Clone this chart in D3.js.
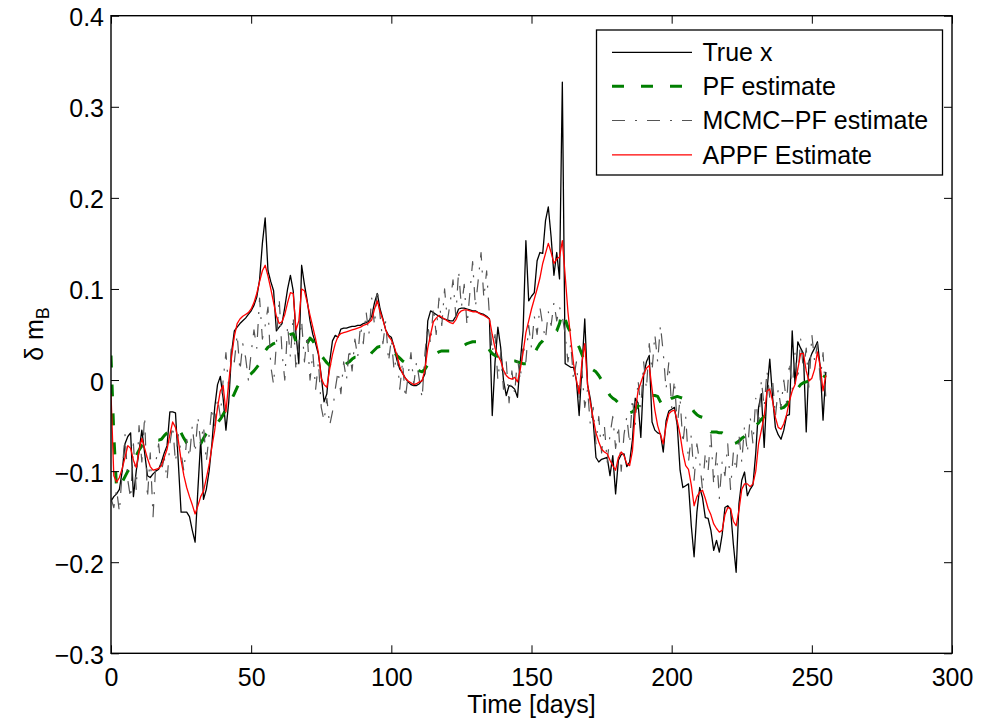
<!DOCTYPE html>
<html>
<head>
<meta charset="utf-8">
<script src="https://cdn.jsdelivr.net/npm/d3@7"></script>
<style>
  html, body { margin: 0; padding: 0; background: #fff; }
  svg { display: block; font-family: "Liberation Sans", Arial, Helvetica, sans-serif; }
</style>
</head>
<body>
<svg id="chart" width="984" height="726"></svg>
<script>
// Daily samples, day 0 .. 255
const trueX = [
  -0.133,-0.128,-0.125,-0.12,-0.10,-0.07,-0.062,-0.058,-0.128,-0.10,
  -0.078,-0.055,-0.08,-0.105,-0.107,-0.103,-0.100,-0.098,-0.09,-0.08,
  -0.072,-0.035,-0.035,-0.036,-0.09,-0.145,-0.145,-0.145,-0.150,-0.165,
  -0.178,-0.12,-0.066,-0.131,-0.12,-0.10,-0.07,-0.03,-0.005,0.004,
  -0.02,-0.055,-0.024,0.03,0.054,0.058,0.062,0.065,0.068,0.072,
  0.076,0.082,0.091,0.11,0.15,0.178,0.12,0.108,0.098,0.054,
  0.058,0.062,0.08,0.10,0.115,0.098,0.05,0.018,0.126,0.105,
  0.087,0.065,0.05,0.040,0.028,0.005,-0.024,-0.015,0.02,0.043,
  0.049,0.047,0.056,0.057,0.057,0.058,0.059,0.059,0.060,0.060,
  0.062,0.063,0.065,0.07,0.085,0.095,0.078,0.067,0.055,0.049,
  0.047,0.036,0.022,0.012,0.008,0.002,-0.002,-0.005,-0.006,-0.006,
  -0.004,0.0,0.007,0.065,0.076,0.074,0.072,0.070,0.068,0.067,
  0.066,0.065,0.065,0.070,0.078,0.079,0.079,0.078,0.077,0.076,
  0.076,0.074,0.073,0.072,0.070,0.067,-0.039,0.02,0.058,0.036,
  0.0,-0.017,-0.006,-0.007,-0.01,-0.019,0.02,0.054,0.153,0.087,
  0.092,0.096,0.131,0.14,0.139,0.175,0.190,0.157,0.115,0.14,
  0.111,0.327,0.018,0.016,0.014,0.014,0.0,-0.039,0.014,0.067,
  -0.005,-0.021,-0.045,-0.085,-0.090,-0.087,-0.086,-0.085,-0.105,-0.083,
  -0.125,-0.088,-0.082,-0.081,-0.095,-0.09,-0.066,-0.02,-0.025,-0.063,
  0.005,0.02,0.027,-0.046,-0.055,-0.058,-0.059,-0.079,-0.045,-0.034,
  -0.032,-0.030,-0.050,-0.099,-0.118,-0.116,-0.114,-0.16,-0.194,-0.145,
  -0.118,-0.129,-0.151,-0.152,-0.165,-0.187,-0.176,-0.189,-0.17,-0.14,
  -0.138,-0.142,-0.18,-0.211,-0.136,-0.11,-0.101,-0.127,-0.12,-0.115,
  -0.08,-0.03,-0.015,-0.074,-0.012,0.023,-0.019,-0.052,-0.06,-0.065,
  -0.055,-0.039,-0.038,0.054,-0.004,0.042,0.035,0.029,-0.057,0.021,
  0.029,0.035,0.042,0.014,-0.044,0.009
];

const pfEstimate = [
  0.027,-0.06,-0.12,-0.117,-0.112,-0.106,-0.100,-0.096,-0.090,-0.083,
  -0.077,-0.072,-0.069,-0.067,-0.066,-0.066,-0.066,-0.066,-0.065,-0.061,
  -0.058,-0.056,-0.055,-0.053,-0.054,-0.058,-0.064,-0.069,-0.072,-0.074,
  -0.075,-0.074,-0.070,-0.064,-0.059,-0.056,-0.053,-0.051,-0.047,-0.043,
  -0.038,-0.032,-0.027,-0.021,-0.015,-0.008,-0.003,0.0,0.003,0.005,
  0.007,0.010,0.014,0.018,0.026,0.032,0.036,0.038,0.040,0.041,
  0.042,0.043,0.045,0.048,0.050,0.051,0.042,0.036,0.035,0.037,
  0.040,0.046,0.043,0.038,0.032,0.027,0.023,0.019,0.016,0.014,
  0.013,0.013,0.014,0.015,0.018,0.020,0.023,0.025,0.025,0.025,
  0.025,0.025,0.026,0.030,0.033,0.036,0.037,0.037,0.036,0.034,
  0.032,0.030,0.027,0.024,0.021,0.019,0.017,0.016,0.014,0.012,
  0.010,0.009,0.012,0.017,0.022,0.027,0.029,0.031,0.032,0.032,
  0.032,0.032,0.033,0.033,0.034,0.036,0.038,0.040,0.041,0.042,
  0.042,0.042,0.042,0.042,0.038,0.033,0.029,0.027,0.026,0.026,
  0.025,0.024,0.022,0.021,0.021,0.020,0.019,0.018,0.018,0.021,
  0.025,0.029,0.035,0.040,0.043,0.047,0.049,0.050,0.052,0.054,
  0.062,0.075,0.067,0.058,0.052,0.047,0.042,0.036,0.028,0.020,
  0.016,0.013,0.011,0.009,0.005,0.0,-0.006,-0.012,-0.017,-0.020,
  -0.022,-0.025,-0.027,-0.030,-0.033,-0.036,-0.035,-0.032,-0.029,-0.025,
  -0.021,-0.019,-0.018,-0.017,-0.017,-0.018,-0.024,-0.030,-0.026,-0.022,
  -0.020,-0.019,-0.018,-0.019,-0.020,-0.021,-0.025,-0.030,-0.035,-0.038,
  -0.040,-0.041,-0.046,-0.052,-0.057,-0.057,-0.057,-0.058,-0.058,-0.060,
  -0.063,-0.067,-0.070,-0.069,-0.067,-0.064,-0.062,-0.059,-0.056,-0.053,
  -0.050,-0.047,-0.043,-0.040,-0.037,-0.035,-0.034,-0.033,-0.032,-0.031,
  -0.030,-0.027,-0.022,-0.018,-0.013,-0.009,-0.005,-0.003,-0.002,-0.001,
  -0.001,0.002,0.004,0.006,0.005,0.003
];

const mcmcEstimate = [
  -0.13,-0.14,-0.12,-0.145,-0.10,-0.06,-0.11,-0.13,-0.07,-0.12,
  -0.05,-0.09,-0.04,-0.13,-0.08,-0.15,-0.09,-0.07,-0.10,-0.085,
  -0.11,-0.07,-0.05,-0.09,-0.06,-0.08,-0.10,-0.065,-0.085,-0.05,
  -0.08,-0.04,-0.07,-0.05,-0.09,-0.06,-0.03,-0.05,-0.02,-0.04,
  0.0,0.03,-0.01,0.04,0.02,0.05,0.01,0.04,0.025,0.0,
  0.03,0.055,0.035,0.09,0.045,0.06,0.08,0.015,-0.005,0.04,
  0.09,0.03,0.0,0.06,0.025,0.07,0.01,0.04,0.065,0.02,
  0.05,0.0,0.03,-0.01,0.02,-0.03,-0.045,-0.02,-0.05,-0.035,
  -0.01,0.01,-0.015,0.02,0.0,0.035,0.01,0.045,0.025,0.06,
  0.04,0.075,0.05,0.09,0.06,0.1,0.07,0.04,0.065,0.02,
  0.045,0.01,0.03,-0.01,0.02,-0.02,0.005,0.03,-0.005,0.02,
  0.0,-0.02,0.03,0.06,0.04,0.08,0.05,0.09,0.06,0.1,
  0.065,0.085,0.11,0.07,0.12,0.08,0.105,0.06,0.095,0.13,
  0.08,0.11,0.14,0.09,0.12,0.07,0.03,0.05,0.0,0.03,
  -0.01,0.02,-0.025,0.01,-0.015,0.025,0.0,0.04,0.02,0.06,
  0.035,0.07,0.05,0.08,0.06,0.045,0.075,0.06,0.085,0.065,
  0.08,0.07,0.05,0.02,0.04,0.0,0.02,-0.02,0.01,-0.03,
  -0.01,-0.05,-0.03,-0.07,-0.04,-0.08,-0.05,-0.09,-0.06,-0.04,
  -0.075,-0.05,-0.1,-0.06,-0.04,-0.07,-0.02,-0.05,0.0,-0.03,
  0.02,-0.01,0.04,0.01,0.05,0.02,0.06,0.03,-0.01,0.02,
  -0.03,0.0,-0.05,-0.02,-0.07,-0.04,-0.09,-0.06,-0.11,-0.07,
  -0.09,-0.12,-0.08,-0.1,-0.06,-0.115,-0.08,-0.13,-0.09,-0.105,
  -0.07,-0.12,-0.08,-0.1,-0.06,-0.09,-0.05,-0.08,-0.04,-0.07,
  -0.02,-0.05,0.0,-0.03,0.01,-0.02,0.0,-0.04,-0.01,-0.03,
  0.0,-0.025,0.02,-0.01,0.03,0.0,0.045,0.01,0.035,-0.01,
  0.05,0.02,0.04,0.0,0.03,-0.02
];

const appfEstimate = [
  -0.015,-0.105,-0.112,-0.107,-0.097,-0.085,-0.072,-0.075,-0.088,-0.096,
  -0.078,-0.064,-0.075,-0.086,-0.095,-0.099,-0.098,-0.097,-0.094,-0.085,
  -0.076,-0.060,-0.046,-0.052,-0.066,-0.088,-0.105,-0.118,-0.128,-0.137,
  -0.147,-0.138,-0.128,-0.122,-0.108,-0.093,-0.073,-0.055,-0.030,-0.012,
  -0.006,-0.035,-0.002,0.025,0.048,0.062,0.067,0.070,0.072,0.074,
  0.078,0.085,0.095,0.108,0.12,0.126,0.114,0.100,0.085,0.070,
  0.062,0.064,0.072,0.085,0.096,0.095,0.055,0.065,0.100,0.098,
  0.085,0.071,0.058,0.045,0.030,0.002,-0.005,-0.008,0.012,0.028,
  0.040,0.048,0.051,0.052,0.053,0.054,0.055,0.056,0.057,0.058,
  0.060,0.061,0.063,0.066,0.078,0.087,0.075,0.066,0.055,0.048,
  0.044,0.037,0.027,0.015,0.007,0.002,-0.001,-0.003,-0.005,-0.004,
  -0.002,-0.001,0.012,0.035,0.050,0.064,0.068,0.071,0.069,0.067,
  0.065,0.063,0.062,0.066,0.073,0.076,0.077,0.077,0.076,0.075,
  0.075,0.074,0.072,0.071,0.069,0.067,0.050,0.035,0.027,0.021,
  0.011,0.005,0.002,0.001,0.003,-0.002,0.012,0.030,0.052,0.065,
  0.078,0.089,0.100,0.112,0.128,0.139,0.150,0.140,0.128,0.133,
  0.135,0.153,0.115,0.075,0.045,0.018,0.0,-0.015,0.02,0.04,
  -0.005,-0.025,-0.042,-0.058,-0.068,-0.076,-0.079,-0.081,-0.088,-0.094,
  -0.099,-0.085,-0.079,-0.083,-0.092,-0.094,-0.078,-0.035,-0.012,-0.003,
  0.006,0.013,0.016,-0.010,-0.033,-0.050,-0.060,-0.070,-0.050,-0.037,
  -0.034,-0.033,-0.045,-0.060,-0.080,-0.094,-0.098,-0.115,-0.138,-0.128,
  -0.123,-0.121,-0.130,-0.141,-0.148,-0.158,-0.163,-0.167,-0.165,-0.148,
  -0.140,-0.141,-0.155,-0.160,-0.143,-0.120,-0.114,-0.114,-0.117,-0.114,
  -0.100,-0.070,-0.055,-0.040,-0.012,-0.010,-0.023,-0.041,-0.052,-0.054,
  -0.048,-0.038,-0.023,-0.012,-0.005,0.012,0.029,0.029,0.010,-0.001,
  0.002,0.012,0.031,0.015,-0.012,0.005
];

const xTicks = [0, 50, 100, 150, 200, 250, 300];
const yTicks = [-0.3, -0.2, -0.1, 0, 0.1, 0.2, 0.3, 0.4];
const legendLabels = ["True x", "PF estimate", "MCMC\u2212PF estimate", "APPF Estimate"];

const FONT = 25;
const plot = { left: 111, right: 952, top: 15.7, bottom: 653.3 };

const svg = d3.select("#chart");
svg.append("rect").attr("width", 984).attr("height", 726).attr("fill", "#fff");

const x = d3.scaleLinear().domain([0, 300]).range([plot.left, plot.right]);
const y = d3.scaleLinear().domain([-0.3, 0.4]).range([plot.bottom, plot.top]);

svg.append("clipPath").attr("id", "plot-clip")
  .append("rect")
  .attr("x", plot.left).attr("y", plot.top)
  .attr("width", plot.right - plot.left).attr("height", plot.bottom - plot.top);

// Series styles, drawn in plotting order
const series = [
  { values: trueX,        color: "#000000", width: 1.3, dash: null },
  { values: pfEstimate,   color: "#007f00", width: 3,   dash: "12,17" },
  { values: mcmcEstimate, color: "#555555", width: 1.2, dash: "13,10,2,10" },
  { values: appfEstimate, color: "#ff0000", width: 1.3, dash: null }
];

const line = d3.line()
  .x((d, i) => x(i))
  .y(d => y(d));

const lines = svg.append("g").attr("clip-path", "url(#plot-clip)");
series.forEach(s => {
  lines.append("path")
    .datum(s.values)
    .attr("fill", "none")
    .attr("stroke", s.color)
    .attr("stroke-width", s.width)
    .attr("stroke-dasharray", s.dash)
    .attr("stroke-linejoin", "round")
    .attr("d", line);
});

// Axes with inward ticks on all four sides
const fmtY = v => (v === 0 ? "0" : d3.format(".1f")(v));
const TICK = 8;

const axisStyle = g => {
  g.select(".domain").remove();
  g.selectAll(".tick line").attr("stroke", "#000").attr("stroke-width", 1);
  g.selectAll(".tick text").attr("fill", "#000").attr("font-size", FONT)
    .attr("font-family", "Liberation Sans, Arial, Helvetica, sans-serif");
};

svg.append("g")
  .attr("transform", `translate(0,${plot.bottom})`)
  .call(d3.axisBottom(x).tickValues(xTicks).tickSize(-TICK).tickPadding(15).tickFormat(d3.format("d")))
  .call(axisStyle);

svg.append("g")
  .attr("transform", `translate(0,${plot.top})`)
  .call(d3.axisTop(x).tickValues(xTicks).tickSize(-TICK).tickFormat(""))
  .call(axisStyle);

svg.append("g")
  .attr("transform", `translate(${plot.left},0)`)
  .call(d3.axisLeft(y).tickValues(yTicks).tickSize(-TICK).tickPadding(7).tickFormat(fmtY))
  .call(axisStyle)
  .selectAll(".tick text").attr("dy", "0.4em");

svg.append("g")
  .attr("transform", `translate(${plot.right},0)`)
  .call(d3.axisRight(y).tickValues(yTicks).tickSize(-TICK).tickFormat(""))
  .call(axisStyle);

// Axes box
svg.append("rect")
  .attr("x", plot.left).attr("y", plot.top)
  .attr("width", plot.right - plot.left).attr("height", plot.bottom - plot.top)
  .attr("fill", "none").attr("stroke", "#000").attr("stroke-width", 1.4);

// Axis titles
svg.append("text")
  .attr("x", (plot.left + plot.right) / 2).attr("y", 713)
  .attr("text-anchor", "middle").attr("font-size", FONT)
  .text("Time [days]");

const yTitle = svg.append("text")
  .attr("transform", "translate(43,334) rotate(-90)")
  .attr("text-anchor", "middle").attr("font-size", FONT);
yTitle.append("tspan").text("\u03B4 m");
yTitle.append("tspan").attr("font-size", 18).attr("dy", 6).text("B");

// Legend
const legend = svg.append("g");
legend.append("rect")
  .attr("x", 596.5).attr("y", 30).attr("width", 346).attr("height", 145)
  .attr("fill", "#fff").attr("stroke", "#000").attr("stroke-width", 1.3);

const rowY = [52.3, 86.3, 120.5, 154.8];
legendLabels.forEach((label, i) => {
  const s = series[i];
  legend.append("line")
    .attr("x1", 612).attr("x2", 692)
    .attr("y1", rowY[i]).attr("y2", rowY[i])
    .attr("stroke", s.color).attr("stroke-width", s.width)
    .attr("stroke-dasharray", s.dash);
  legend.append("text")
    .attr("x", 702.5).attr("y", rowY[i] + 8.8)
    .attr("font-size", FONT)
    .text(label);
});
</script>
</body>
</html>
